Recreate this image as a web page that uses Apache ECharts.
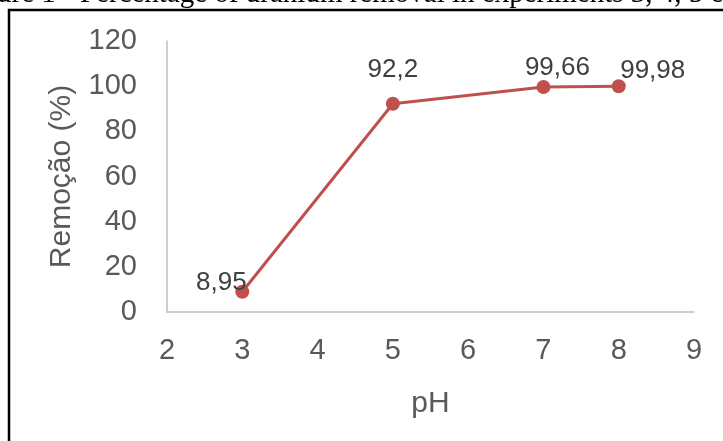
<!DOCTYPE html>
<html>
<head>
<meta charset="utf-8">
<script src="https://cdn.jsdelivr.net/npm/echarts@6/dist/echarts.min.js"></script>
<style>
  html, body { margin: 0; padding: 0; background: #fff; }
  #chart { width: 723px; height: 441px; }
</style>
</head>
<body>
<div id="chart"></div>
<script>
// data
const phValues = [3, 5, 7, 8];
const removal = [8.95, 92.2, 99.66, 99.98];
const captionText = 'ure 1 - Percentage of uranium removal in experiments 3, 4, 5 e';
const xName = 'pH';
const yName = 'Remoção (%)';

// Excel had the labels nudged by hand
const labelOffsets = [[-21, 16], [0, -9], [14, 6], [34, 10]];

const lineColor = '#c0504d';
const tickColor = '#595959';
const axisColor = '#bfbfbf';
const font = 'Liberation Sans, Arial, sans-serif';

const seriesData = phValues.map(function (x, i) {
    return {
        value: [x, removal[i]],
        label: {offset: labelOffsets[i]}
    };
});

const chart = echarts.init(document.getElementById('chart'), null, {renderer: 'canvas'});
chart.setOption({
    animation: false,
    backgroundColor: '#fff',
    graphic: [
        {
            type: 'rect',
            shape: {x: 9, y: 10, width: 800, height: 500},
            style: {fill: 'none', stroke: '#000', lineWidth: 2.5},
            silent: true
        },
        {
            type: 'text',
            left: -3,
            top: -20,
            style: {
                text: captionText,
                font: '29px "Liberation Serif", "Times New Roman", serif',
                fill: '#000'
            },
            silent: true
        }
    ],
    grid: {left: 167, right: 29, top: 41, bottom: 129},
    xAxis: {
        type: 'value',
        min: 2,
        max: 9,
        interval: 1,
        name: xName,
        nameLocation: 'middle',
        nameGap: 77,
        nameTextStyle: {color: tickColor, fontSize: 30, fontFamily: font},
        axisLine: {show: true, lineStyle: {color: axisColor, width: 1.5}},
        axisTick: {show: false},
        splitLine: {show: false},
        axisLabel: {color: tickColor, fontSize: 29, fontFamily: font, margin: 24}
    },
    yAxis: {
        type: 'value',
        min: 0,
        max: 120,
        interval: 20,
        name: yName,
        nameLocation: 'middle',
        nameGap: 90,
        nameTextStyle: {color: tickColor, fontSize: 30, fontFamily: font},
        axisLine: {show: true, lineStyle: {color: axisColor, width: 1.5}},
        axisTick: {show: false},
        splitLine: {show: false},
        axisLabel: {color: tickColor, fontSize: 29, fontFamily: font, margin: 30}
    },
    series: [
        {
            type: 'line',
            data: seriesData,
            symbol: 'circle',
            symbolSize: 14,
            lineStyle: {color: lineColor, width: 3},
            itemStyle: {color: lineColor},
            label: {
                show: true,
                position: 'top',
                color: '#404040',
                fontSize: 26,
                fontFamily: font,
                formatter: function (p) {
                    return String(p.value[1]).replace('.', ',');
                }
            }
        }
    ]
});
</script>
</body>
</html>
